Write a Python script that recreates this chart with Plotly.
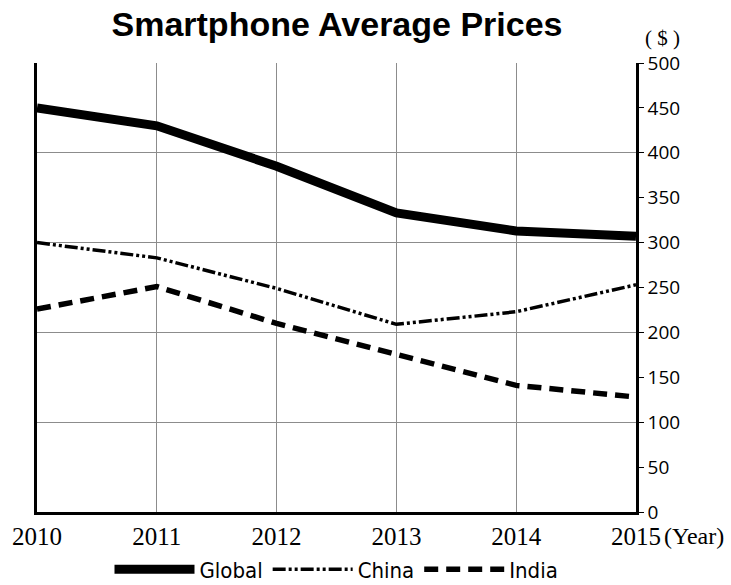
import plotly.graph_objects as go

years = [2010, 2011, 2012, 2013, 2014, 2015]
global_prices = [450, 430, 385, 333, 313, 307]
china_prices = [300, 283, 249, 209, 223, 253]
india_prices = [226, 251, 210, 175, 141, 128]
y_ticks = [0, 50, 100, 150, 200, 250, 300, 350, 400, 450, 500]
grid_ticks = [0, 100, 200, 300, 400, 500]

fig = go.Figure()
fig.add_trace(go.Scatter(x=years, y=global_prices, mode="lines", name="Global",
                         line=dict(color="black", width=9)))
fig.add_trace(go.Scatter(x=years, y=china_prices, mode="lines", name="China",
                         line=dict(color="black", width=3.5, dash="13px,3px,3px,3px,3px,3px")))
fig.add_trace(go.Scatter(x=years, y=india_prices, mode="lines", name="India",
                         line=dict(color="black", width=5.5, dash="14px,8px")))
# invisible trace on yaxis2 for the gridlines
fig.add_trace(go.Scatter(x=[years[0]], y=[0], yaxis="y2", mode="lines",
                         showlegend=False, hoverinfo="skip", line=dict(width=0)))

fig.update_layout(
    width=731, height=585,
    margin=dict(l=37, r=95, t=63, b=73, autoexpand=False),
    paper_bgcolor="white", plot_bgcolor="white",
    title=dict(text="<b>Smartphone Average Prices</b>", x=0.461, xanchor="center",
               y=0.958, yanchor="middle", automargin=False,
               font=dict(family="Liberation Sans, Arial", size=34, color="black")),
    xaxis=dict(range=[2010, 2015], tickvals=years, showgrid=True, gridcolor="#8c8c8c",
               gridwidth=1, showline=True, linecolor="black", linewidth=2.5, ticks="",
               zeroline=False, automargin=False,
               tickfont=dict(family="Liberation Serif, Times New Roman", size=25, color="black")),
    yaxis=dict(range=[0, 500], side="right", tickvals=y_ticks, showgrid=False,
               showline=True, linecolor="black", linewidth=2.5, ticks="outside",
               ticklen=5, tickwidth=1, tickcolor="black", zeroline=False, automargin=False,
               tickfont=dict(family="Open Sans, Noto Sans", size=19, color="black")),
    yaxis2=dict(range=[0, 500], overlaying="y", side="left", tickvals=grid_ticks,
                showgrid=True, gridcolor="#8c8c8c", gridwidth=1, showticklabels=False,
                showline=True, linecolor="black", linewidth=2.5, ticks="", zeroline=False,
                automargin=False),
    legend=dict(orientation="h", x=0.5, xanchor="center", y=-0.128, yanchor="middle",
                itemwidth=80, font=dict(family="Liberation Sans Narrow, DejaVu Sans Condensed",
                                        size=22, color="black"),
                bgcolor="rgba(0,0,0,0)"),
    showlegend=True,
)

fig.add_annotation(text="( $ )", xref="paper", yref="paper", x=1.045, y=1.055,
                   xanchor="center", yanchor="middle", showarrow=False,
                   font=dict(family="Liberation Serif, Times New Roman", size=21, color="black"))
fig.add_annotation(text="(Year)", xref="paper", yref="paper", x=1.043, y=-0.053,
                   xanchor="left", yanchor="middle", showarrow=False,
                   font=dict(family="Liberation Serif, Times New Roman", size=24, color="black"))

fig.write_html("out.html", config={"displayModeBar": False},
               post_script="document.body.style.margin='0';")
